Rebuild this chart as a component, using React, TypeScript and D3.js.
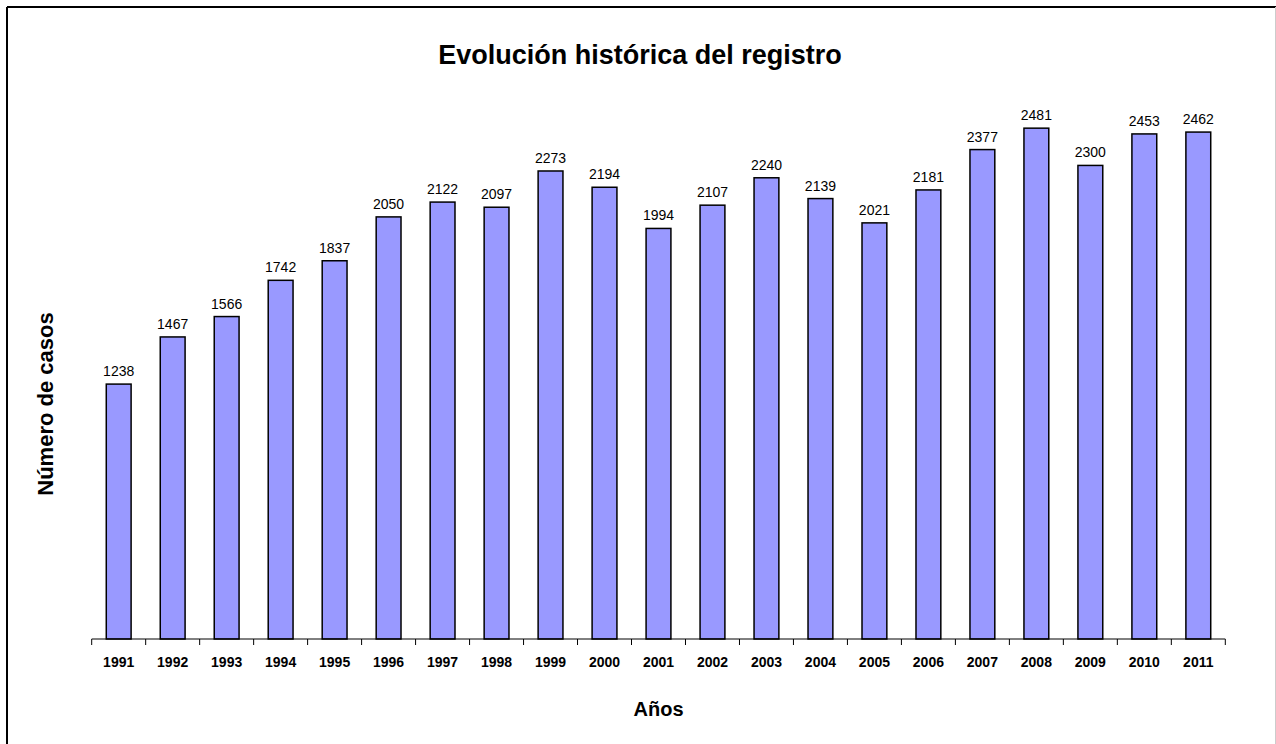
import * as d3 from 'd3'
import { useEffect, useRef } from 'react'

// years and counts
const years = ['1991', '1992', '1993', '1994', '1995', '1996', '1997', '1998', '1999', '2000', '2001',
  '2002', '2003', '2004', '2005', '2006', '2007', '2008', '2009', '2010', '2011']
const cases = [1238, 1467, 1566, 1742, 1837, 2050, 2122, 2097, 2273, 2194, 1994,
  2107, 2240, 2139, 2021, 2181, 2377, 2481, 2300, 2453, 2462]

const W = 1276
const H = 744
const FONT = '"Liberation Sans", Arial, sans-serif'

export default function App() {
  const svgRef = useRef<SVGSVGElement>(null)

  useEffect(() => {
    const svg = d3.select(svgRef.current)
    svg.selectAll('*').remove()

    const left = 91.7, right = 1225.3, base = 639

    const x = d3.scaleBand().domain(years).range([left, right]).paddingInner(0.54).paddingOuter(0.27)
    const y = d3.scaleLinear().domain([0, 3000]).range([base, base - 3000 * 0.2059])

    // outer frame (clipped on the right/bottom like the source image)
    svg.append('line').attr('x1', 7).attr('x2', W).attr('y1', 7).attr('y2', 7)
      .attr('stroke', '#000').attr('stroke-width', 2)
    svg.append('line').attr('x1', 7).attr('x2', 7).attr('y1', 7).attr('y2', H)
      .attr('stroke', '#000').attr('stroke-width', 2)
    svg.append('line').attr('x1', 1275.5).attr('x2', 1275.5).attr('y1', 7).attr('y2', H)
      .attr('stroke', '#ccc').attr('stroke-width', 1)

    svg.append('text')
      .attr('x', 640).attr('y', 64)
      .attr('text-anchor', 'middle')
      .attr('font-family', FONT).attr('font-weight', 'bold').attr('font-size', 27)
      .text('Evolución histórica del registro')

    const g = svg.append('g')

    g.selectAll('rect')
      .data(years)
      .join('rect')
      .attr('x', d => x(d)!)
      .attr('y', (d, i) => y(cases[i]))
      .attr('width', x.bandwidth())
      .attr('height', (d, i) => base - y(cases[i]))
      .attr('fill', '#9999FF')
      .attr('stroke', '#000')
      .attr('stroke-width', 1.5)

    g.selectAll('text.val')
      .data(years)
      .join('text')
      .attr('class', 'val')
      .attr('x', d => x(d)! + x.bandwidth() / 2)
      .attr('y', (d, i) => y(cases[i]) - 8)
      .attr('text-anchor', 'middle')
      .attr('font-family', FONT).attr('font-size', 14)
      .text((d, i) => cases[i])

    // category axis
    g.append('line').attr('x1', left).attr('x2', right).attr('y1', base).attr('y2', base)
      .attr('stroke', '#000').attr('stroke-width', 1)
    const half = (x.step() - x.bandwidth()) / 2
    const bounds = years.map(d => x(d)! - half).concat([right])
    g.selectAll('line.tick')
      .data(bounds)
      .join('line')
      .attr('class', 'tick')
      .attr('x1', d => d).attr('x2', d => d)
      .attr('y1', base).attr('y2', base + 6)
      .attr('stroke', '#000').attr('stroke-width', 1)

    g.selectAll('text.cat')
      .data(years)
      .join('text')
      .attr('class', 'cat')
      .attr('x', d => x(d)! + x.bandwidth() / 2)
      .attr('y', 667)
      .attr('text-anchor', 'middle')
      .attr('font-family', FONT).attr('font-weight', 'bold').attr('font-size', 14)
      .text(d => d)

    svg.append('text')
      .attr('x', (left + right) / 2).attr('y', 716)
      .attr('text-anchor', 'middle')
      .attr('font-family', FONT).attr('font-weight', 'bold').attr('font-size', 20)
      .text('Años')

    svg.append('text')
      .attr('transform', 'translate(53,404) rotate(-90)')
      .attr('text-anchor', 'middle')
      .attr('font-family', FONT).attr('font-weight', 'bold').attr('font-size', 22)
      .text('Número de casos')
  }, [])

  return (
    <svg ref={svgRef} width={W} height={H}
      style={{ position: 'absolute', left: 0, top: 0, background: '#fff' }} />
  )
}
